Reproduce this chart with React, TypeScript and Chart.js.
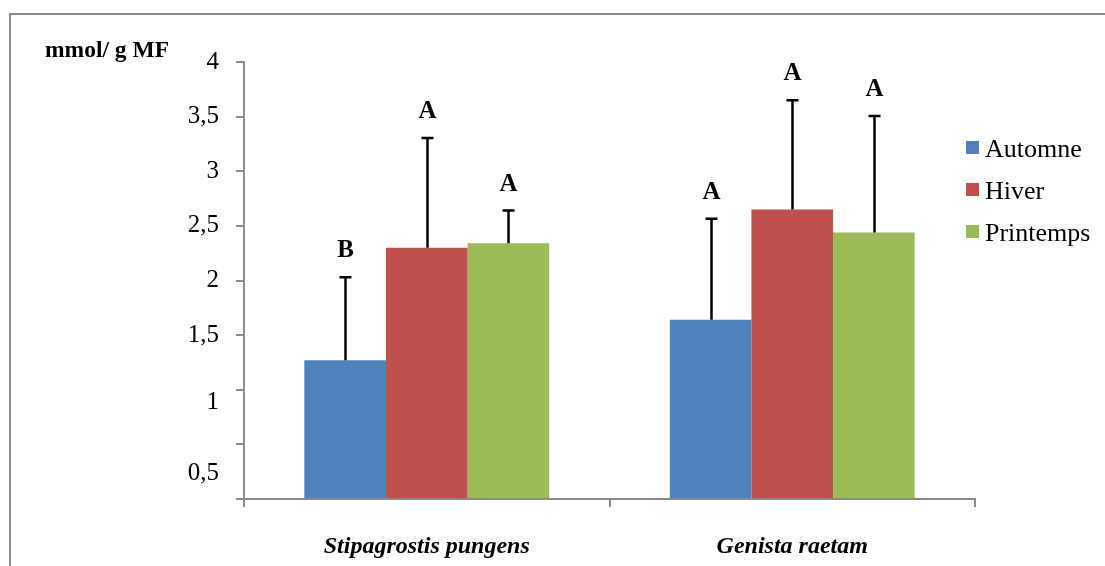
import React, { useEffect, useRef } from 'react';
import { Chart, registerables } from 'chart.js';

Chart.register(...registerables);

const categories = ['Stipagrostis pungens', 'Genista raetam'];
const seriesNames = ['Automne', 'Hiver', 'Printemps'];
const automne = [1.27, 1.64];
const hiver = [2.3, 2.65];
const printemps = [2.34, 2.44];
const automneErr = [0.76, 0.925];
const hiverErr = [1.005, 1.0];
const printempsErr = [0.3, 1.065];
const automneLetters = ['B', 'A'];
const hiverLetters = ['A', 'A'];
const printempsLetters = ['A', 'A'];
const yUnit = 'mmol/ g MF';
const seriesColors = ['#4F81BD', '#C0504D', '#9BBB59'];

const SERIF = '"Liberation Serif", "Times New Roman", serif';
const AXIS_GRAY = '#8a8a8a';

const fmt = (v: number) => String(v).replace('.', ',');

export default function App() {
  const canvasRef = useRef<HTMLCanvasElement | null>(null);

  useEffect(() => {
    const canvas = canvasRef.current;
    if (!canvas) return;
    const values = [automne, hiver, printemps];
    const errors = [automneErr, hiverErr, printempsErr];
    const letters = [automneLetters, hiverLetters, printempsLetters];

    const overlay = {
      id: 'overlay',
      afterDatasetsDraw(chart: any) {
        const ctx = chart.ctx;
        const y = chart.scales.y;
        ctx.save();
        chart.data.datasets.forEach((ds: any, di: number) => {
          const meta = chart.getDatasetMeta(di);
          meta.data.forEach((bar: any, i: number) => {
            const v = values[di][i];
            const top = v + errors[di][i];
            const x = Math.round(bar.x) + 0.5;
            const y0 = y.getPixelForValue(v);
            const y1 = y.getPixelForValue(top);
            ctx.strokeStyle = '#000';
            ctx.lineWidth = 2.5;
            ctx.beginPath();
            ctx.moveTo(x, y0);
            ctx.lineTo(x, y1);
            ctx.moveTo(x - 6, y1);
            ctx.lineTo(x + 6, y1);
            ctx.stroke();
            ctx.fillStyle = '#000';
            ctx.font = `bold 25px ${SERIF}`;
            ctx.textAlign = 'center';
            ctx.textBaseline = 'alphabetic';
            ctx.fillText(letters[di][i], x, y1 - 20);
          });
        });
        ctx.restore();
      },
      afterDraw(chart: any) {
        const ctx = chart.ctx;
        const y = chart.scales.y;
        ctx.save();
        ctx.fillStyle = '#000';
        // unit label
        ctx.font = `bold 23.5px ${SERIF}`;
        ctx.textAlign = 'left';
        ctx.textBaseline = 'alphabetic';
        ctx.fillText(yUnit, 45, 57);
        // lower axis labels, placed as in the original figure
        ctx.font = `25px ${SERIF}`;
        ctx.textAlign = 'right';
        ctx.textBaseline = 'middle';
        ctx.fillText(fmt(1), 219, y.getPixelForValue(0.88));
        ctx.fillText(fmt(0.5), 219, y.getPixelForValue(0.23));
        // legend
        ctx.font = `26px ${SERIF}`;
        ctx.textAlign = 'left';
        ctx.textBaseline = 'alphabetic';
        seriesNames.forEach((name, i) => {
          const base = 157 + i * 42;
          ctx.fillStyle = seriesColors[i];
          ctx.fillRect(966, base - 16, 13, 13);
          ctx.fillStyle = '#000';
          ctx.fillText(name, 985, base);
        });
        ctx.restore();
      },
    };

    const chart = new Chart(canvas, {
      type: 'bar',
      data: {
        labels: categories,
        datasets: seriesNames.map((name, i) => ({
          label: name,
          data: values[i],
          backgroundColor: seriesColors[i],
          borderWidth: 0,
          categoryPercentage: 0.67,
          barPercentage: 1.0,
        })),
      },
      options: {
        responsive: false,
        animation: false,
        events: [],
        layout: { padding: { top: 62, right: 130, left: 0, bottom: 0 } },
        plugins: {
          legend: { display: false },
          tooltip: { enabled: false },
          title: { display: false },
        },
        scales: {
          x: {
            afterFit: (s: any) => {
              s.height = 67;
            },
            grid: {
              display: true,
              offset: true,
              drawOnChartArea: false,
              drawTicks: true,
              tickLength: 8,
              color: AXIS_GRAY,
              lineWidth: 2,
            },
            border: { display: true, color: AXIS_GRAY, width: 2 },
            ticks: {
              color: '#000',
              padding: 25,
              font: { family: SERIF, size: 24, style: 'italic', weight: 'bold' },
            },
          },
          y: {
            min: 0,
            max: 4,
            afterFit: (s: any) => {
              s.width = 244;
            },
            grid: {
              display: true,
              drawOnChartArea: false,
              drawTicks: true,
              tickLength: 8,
              color: AXIS_GRAY,
              lineWidth: 2,
            },
            border: { display: true, color: AXIS_GRAY, width: 2 },
            ticks: {
              stepSize: 0.5,
              color: '#000',
              padding: 17,
              font: { family: SERIF, size: 25 },
              callback: (v: any) => (Number(v) >= 1.5 ? fmt(Number(v)) : ''),
            },
          },
        },
      },
      plugins: [overlay],
    });
    return () => chart.destroy();
  }, []);

  return (
    <div
      style={{
        position: 'fixed',
        left: 0,
        top: 0,
        width: 1105,
        height: 566,
        overflow: 'hidden',
        background: '#fff',
      }}
    >
      <div
        style={{
          position: 'absolute',
          left: 9,
          top: 13,
          width: 1300,
          height: 800,
          border: `2px solid ${AXIS_GRAY}`,
          boxSizing: 'border-box',
        }}
      />
      <canvas
        ref={canvasRef}
        width={1105}
        height={566}
        style={{ position: 'absolute', left: 0, top: 0, width: 1105, height: 566, display: 'block' }}
      />
    </div>
  );
}
